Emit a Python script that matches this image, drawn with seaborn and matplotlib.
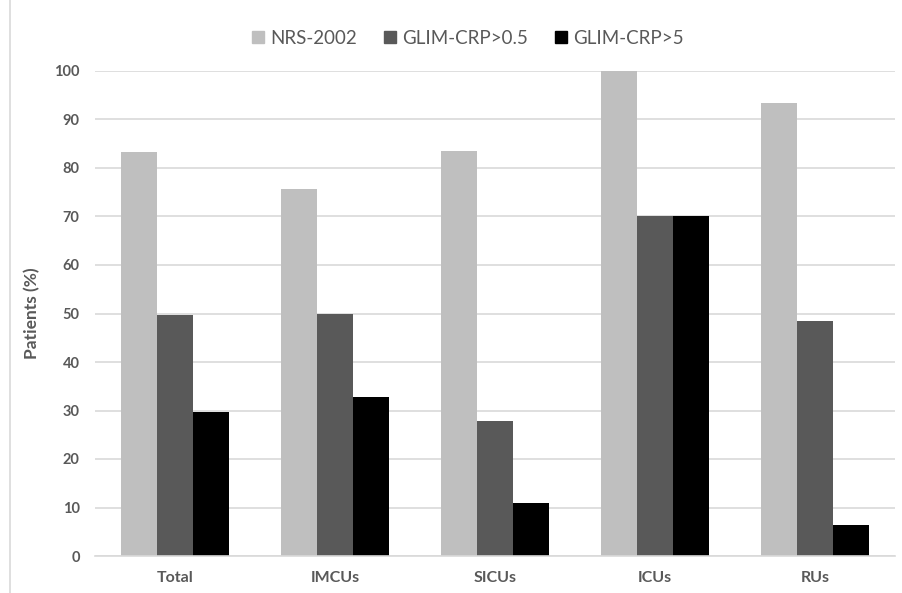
import matplotlib
matplotlib.use("Agg")
import matplotlib.pyplot as plt
import matplotlib.lines as mlines
import seaborn as sns
import pandas as pd

categories = ["Total", "IMCUs", "SICUs", "ICUs", "RUs"]
series_names = ["NRS-2002", "GLIM-CRP>0.5", "GLIM-CRP>5"]
nrs_2002 = [83.3, 75.7, 83.5, 100.0, 93.5]
glim_crp_05 = [49.6, 50.0, 27.8, 70.0, 48.4]
glim_crp_5 = [29.7, 32.8, 11.0, 70.0, 6.4]
y_ticks = [0, 10, 20, 30, 40, 50, 60, 70, 80, 90, 100]

colors = ["#BFBFBF", "#595959", "#000000"]
text_color = "#595959"
grid_color = "#D9D9D9"

rows = []
for name, vals in zip(series_names, [nrs_2002, glim_crp_05, glim_crp_5]):
    for cat, v in zip(categories, vals):
        rows.append({"unit": cat, "series": name, "value": v})
df = pd.DataFrame(rows)

sns.set_theme(style="white")
plt.rcParams["font.family"] = ["Lato", "DejaVu Sans"]

fig = plt.figure(figsize=(9.03, 5.93), dpi=100)
ax = fig.add_axes([95 / 903, 37 / 593, 800 / 903, 485 / 593])

sns.barplot(data=df, x="unit", y="value", hue="series", order=categories,
            hue_order=series_names, palette=colors, width=0.67,
            saturation=1, gap=0, ax=ax, legend=False, linewidth=0)

ax.set_ylim(0, 100)
ax.set_yticks(y_ticks)
ax.set_yticklabels([str(t) for t in y_ticks], fontsize=10.5, fontweight="bold",
                   color=text_color)
ax.set_xlim(-0.5, len(categories) - 0.5)
ax.set_xticks(range(len(categories)))
ax.set_xticklabels(categories, fontsize=11.5, fontweight="bold", color=text_color)
ax.tick_params(axis="y", length=0, pad=11)
ax.tick_params(axis="x", length=0, pad=11)
ax.set_xlabel("")
ax.set_ylabel("Patients (%)", fontsize=12.5, fontweight="bold", color=text_color)
ax.yaxis.set_label_coords(-55 / 800, 0.5)

ax.grid(axis="y", color=grid_color, linewidth=1.2)
ax.set_axisbelow(True)
for side in ["top", "right", "left"]:
    ax.spines[side].set_visible(False)
ax.spines["bottom"].set_color(grid_color)
ax.spines["bottom"].set_linewidth(1.2)

# legend with square markers above the plot
handles = [mlines.Line2D([], [], marker="s", linestyle="none", markersize=8.5,
                         color=c, label=n) for c, n in zip(colors, series_names)]
fig.legend(handles=handles, loc="center", bbox_to_anchor=(0.518, 1 - 38 / 593),
           ncol=3, frameon=False, fontsize=13.5, handlelength=0.7,
           handletextpad=0.3, columnspacing=1.4, labelcolor=text_color)

# outer chart border on the left
fig.add_artist(mlines.Line2D([10 / 903, 10 / 903], [0, 1], color=grid_color,
                             linewidth=1.2, transform=fig.transFigure))

fig.savefig("out.png", dpi=100, facecolor="white")
